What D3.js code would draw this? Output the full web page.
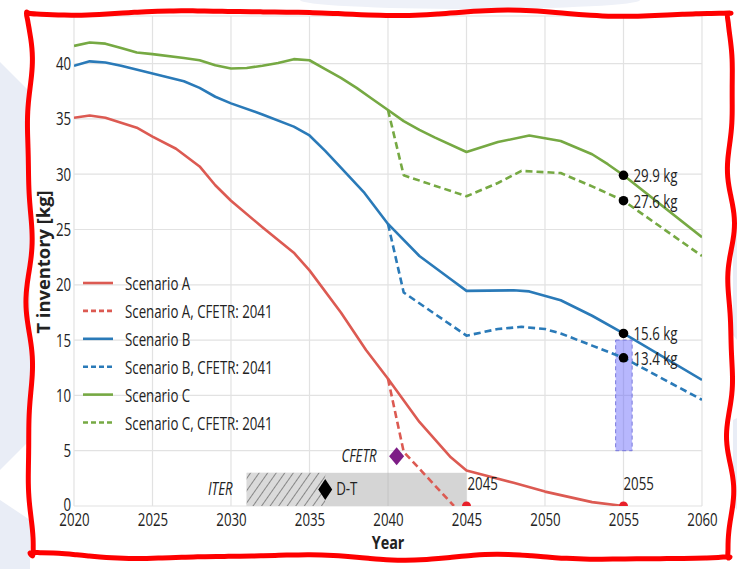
<!DOCTYPE html>
<html>
<head>
<meta charset="utf-8">
<script src="https://cdn.jsdelivr.net/npm/d3@7"></script>
<style>
body { margin: 0; background: #fff; }
text { font-family: "Open Sans", sans-serif; fill: #222; }
</style>
</head>
<body>
<svg id="chart" width="737" height="569"></svg>
<script>
//////////////////////////////////////
// Data

const xTicks = [2020, 2025, 2030, 2035, 2040, 2045, 2050, 2055, 2060]
const yTicks = [0, 5, 10, 15, 20, 25, 30, 35, 40]

const scenarioA = [[2020,35.1],[2021,35.3],[2022,35.1],[2024,34.2],[2025,33.4],[2026.5,32.3],[2028,30.7],[2029,29.0],[2030,27.6],[2032,25.2],[2034,22.9],[2035,21.3],[2037,17.5],[2038.6,14.1],[2040,11.5],[2042,7.6],[2044,4.4],[2045,3.2],[2048,2.1],[2050,1.3],[2053,0.35],[2055,0]]
const scenarioA_cfetr = [[2040,11.5],[2041,4.9],[2044.2,0]]
const scenarioB = [[2020,39.8],[2021,40.2],[2022,40.1],[2023,39.8],[2025,39.1],[2027,38.4],[2028,37.8],[2029,37.0],[2030,36.4],[2032,35.4],[2034,34.3],[2035,33.5],[2036,32.1],[2037,30.6],[2038.5,28.3],[2040,25.5],[2042,22.6],[2044,20.5],[2045,19.45],[2048,19.5],[2049,19.4],[2051,18.6],[2053,17.2],[2055,15.6],[2060,11.4]]
const scenarioB_cfetr = [[2040,25.5],[2041,19.3],[2045,15.4],[2047,16.0],[2048.5,16.2],[2050,16.0],[2051,15.6],[2053,14.5],[2055,13.4],[2060,9.6]]
const scenarioC = [[2020,41.6],[2021,41.9],[2022,41.8],[2023,41.4],[2024,41.0],[2025,40.85],[2027,40.5],[2028,40.3],[2029,39.85],[2030,39.55],[2031,39.6],[2032,39.8],[2033,40.05],[2034,40.4],[2035,40.3],[2036,39.5],[2037,38.7],[2038,37.8],[2039,36.8],[2040,35.8],[2041,34.8],[2042,34.0],[2043,33.3],[2045,32.0],[2047,32.9],[2049,33.5],[2051,33.0],[2053,31.8],[2054,30.9],[2055,29.9],[2060,24.3]]
const scenarioC_cfetr = [[2040,35.8],[2041,29.9],[2045,28.0],[2047,29.2],[2048.5,30.3],[2051,30.1],[2053,28.9],[2055,27.6],[2060,22.6]]

const seriesNames = ["Scenario A", "Scenario A, CFETR: 2041", "Scenario B", "Scenario B, CFETR: 2041", "Scenario C", "Scenario C, CFETR: 2041"]
const seriesData = [scenarioA, scenarioA_cfetr, scenarioB, scenarioB_cfetr, scenarioC, scenarioC_cfetr]
const seriesColors = ["#dc5a52", "#dc5a52", "#2a7ab8", "#2a7ab8", "#76a943", "#76a943"]
const seriesDashed = [false, true, false, true, false, true]

const markValues = [29.9, 27.6, 15.6, 13.4]
const markYear = 2055
const zeroDots = [2045, 2055]

const iter = {start: 2031, dt: 2036, end: 2045, level: 3}
const cfetr = {year: 2040.55, value: 4.5}
const band = {from: 2054.5, to: 2055.55, low: 5, high: 15}

//////////////////////////////////////
// Setup

const W = 737, H = 569
const mLeft = 74, mRight = 702, mTop = 16, mBottom = 506
const fs = 19
const sx = 0.7 // text in the figure is horizontally squeezed

const svg = d3.select("#chart")

const x = d3.scaleLinear().domain([2020, 2060]).range([mLeft, mRight])
const y = d3.scaleLinear().domain([0, 44.3]).range([mBottom, mTop])

// faint watermark shapes in the background
const bg = svg.append("g").attr("fill", "#e9edf6")
bg.append("path").attr("d", "M0,62 L30,92 L30,440 L0,470 Z")
bg.append("path").attr("d", "M0,500 L30,520 L30,569 L0,569 Z")
bg.append("path").attr("d", "M733,225 L737,222 L737,340 L733,335 Z")
bg.append("path").attr("d", "M733,420 L737,418 L737,510 L733,505 Z")
bg.append("ellipse").attr("cx", 470).attr("cy", 0).attr("rx", 170).attr("ry", 9).attr("fill", "#eef1f8")

//////////////////////////////////////
// Grid + axes

const grid = svg.append("g").attr("stroke", "#e2e2e2").attr("stroke-width", 1.2)
grid.selectAll(".vg").data(xTicks).join("line")
	.attr("x1", d => x(d)).attr("x2", d => x(d))
	.attr("y1", mTop).attr("y2", mBottom)
grid.selectAll(".hg").data(yTicks.concat([44.3])).join("line")
	.attr("x1", mLeft).attr("x2", mRight)
	.attr("y1", d => y(d)).attr("y2", d => y(d))

const yAxis = svg.append("g")
	.attr("transform", "translate(" + mLeft + ",0)")
	.call(d3.axisLeft(y).tickValues(yTicks).tickSize(0).tickPadding(4))
yAxis.select(".domain").remove()
yAxis.selectAll("text")
	.attr("font-size", fs).attr("font-family", "Open Sans").attr("fill", "#222")
	.attr("transform", d => "translate(0," + (d === 0 ? -2 : 0) + ") scale(" + sx + ",1)")

const xAxis = svg.append("g")
	.attr("transform", "translate(0," + mBottom + ")")
	.call(d3.axisBottom(x).tickValues(xTicks).tickFormat(d3.format("d")).tickSize(0).tickPadding(7))
xAxis.select(".domain").remove()
xAxis.selectAll("text")
	.attr("font-size", fs).attr("font-family", "Open Sans").attr("fill", "#222")
	.attr("transform", "scale(" + sx + ",1)")

svg.append("text")
	.attr("transform", "translate(50,262) rotate(-90) scale(1.02,1)")
	.attr("text-anchor", "middle")
	.attr("font-size", 18).attr("font-weight", "bold")
	.text("T inventory [kg]")

svg.append("text")
	.attr("transform", "translate(388,549) scale(0.8,1)")
	.attr("text-anchor", "middle")
	.attr("font-size", 18).attr("font-weight", "bold")
	.text("Year")

//////////////////////////////////////
// ITER box, CFETR marker, band

const defs = svg.append("defs")
const pat = defs.append("pattern").attr("id", "hatch")
	.attr("patternUnits", "userSpaceOnUse").attr("width", 7).attr("height", 7)
	.attr("patternTransform", "rotate(35)")
pat.append("rect").attr("width", 7).attr("height", 7).attr("fill", "#dadada")
pat.append("line").attr("x1", 0).attr("y1", 0).attr("x2", 0).attr("y2", 7)
	.attr("stroke", "#333").attr("stroke-width", 1)

svg.append("rect")
	.attr("x", x(iter.start)).attr("y", y(iter.level))
	.attr("width", x(iter.end) - x(iter.start)).attr("height", y(0) - y(iter.level))
	.attr("fill", "#d5d5d5")
svg.append("rect")
	.attr("x", x(iter.start)).attr("y", y(iter.level))
	.attr("width", x(iter.dt) - x(iter.start)).attr("height", y(0) - y(iter.level))
	.attr("fill", "url(#hatch)")
// gridline at 2040 shows through the gray box
svg.append("line").attr("x1", x(2040)).attr("x2", x(2040)).attr("y1", y(iter.level)).attr("y2", mBottom)
	.attr("stroke", "#c4c4c4").attr("stroke-width", 1)

svg.append("rect")
	.attr("x", x(band.from)).attr("y", y(band.high))
	.attr("width", x(band.to) - x(band.from)).attr("height", y(band.low) - y(band.high))
	.attr("fill", "rgba(95,95,250,0.45)")
	.attr("stroke", "#7777dd").attr("stroke-width", 1).attr("stroke-dasharray", "4,3")

function diamond(cx, cy, hw, hh) {
	return "M" + cx + "," + (cy - hh) + "L" + (cx + hw) + "," + cy + "L" + cx + "," + (cy + hh) + "L" + (cx - hw) + "," + cy + "Z"
}

//////////////////////////////////////
// Lines

const clip = defs.append("clipPath").attr("id", "plotclip")
clip.append("rect").attr("x", mLeft).attr("y", mTop).attr("width", mRight - mLeft).attr("height", mBottom - mTop)

const line = d3.line().x(d => x(d[0])).y(d => y(d[1])).curve(d3.curveLinear)
const plot = svg.append("g").attr("clip-path", "url(#plotclip)")

seriesData.forEach(function(data, i) {
	plot.append("path")
		.datum(data)
		.attr("fill", "none")
		.attr("stroke", seriesColors[i])
		.attr("stroke-width", 2.6)
		.attr("stroke-linejoin", "round")
		.attr("stroke-dasharray", seriesDashed[i] ? "7,4" : null)
		.attr("d", line)
})

plot.selectAll(".zd").data(zeroDots).join("circle")
	.attr("cx", d => x(d)).attr("cy", y(0)).attr("r", 4.5)
	.attr("fill", "#e8202a")

svg.append("path")
	.attr("d", diamond(x(iter.dt), y(iter.level / 2), 7, 10.5))
	.attr("fill", "#000")
svg.append("path")
	.attr("d", diamond(x(cfetr.year), y(cfetr.value), 7.5, 9))
	.attr("fill", "#7d1d86")

svg.selectAll(".mk").data(markValues).join("circle")
	.attr("cx", x(markYear)).attr("cy", d => y(d)).attr("r", 4.8)
	.attr("fill", "#000")

svg.selectAll(".mkl").data(markValues).join("text")
	.attr("transform", d => "translate(" + (x(markYear) + 10) + "," + (y(d) + 7) + ") scale(" + sx + ",1)")
	.attr("font-size", fs)
	.text(d => d + " kg")

//////////////////////////////////////
// Annotations

function label(px, py, s, opts) {
	const t = svg.append("text")
		.attr("transform", "translate(" + px + "," + py + ") scale(" + sx + ",1)")
		.attr("font-size", fs)
		.text(s)
	if (opts) for (const k in opts) t.attr(k, opts[k])
	return t
}
label(x(2045) + 1, y(0) - 16, "2045")
label(x(2055), y(0) - 16, "2055")
label(x(iter.start) - 14, y(0) - 11, "ITER", {"text-anchor": "end", "font-style": "italic"})
label(x(iter.dt) + 11, y(0) - 11, "D-T")
label(x(cfetr.year) - 20, y(cfetr.value) + 6, "CFETR", {"text-anchor": "end", "font-style": "italic", "fill": "#7d1d86"})

//////////////////////////////////////
// Legend

const legend = svg.append("g").attr("transform", "translate(83,283)")
seriesNames.forEach(function(name, i) {
	const row = legend.append("g").attr("transform", "translate(0," + (i * 27.9) + ")")
	row.append("line")
		.attr("x1", 0).attr("x2", 30).attr("y1", 0).attr("y2", 0)
		.attr("stroke", seriesColors[i]).attr("stroke-width", 2.6)
		.attr("stroke-dasharray", seriesDashed[i] ? "5,3" : null)
	row.append("text")
		.attr("transform", "translate(42,7) scale(" + sx + ",1)")
		.attr("font-size", fs)
		.text(name)
})

//////////////////////////////////////
// Hand-drawn red frame

function wobble(x0, y0, x1, y1, amp, freq, phase) {
	const pts = []
	const n = 60
	const len = Math.hypot(x1 - x0, y1 - y0)
	const nx = -(y1 - y0) / len, ny = (x1 - x0) / len
	for (let i = 0; i <= n; i++) {
		const t = i / n
		const o = amp * Math.sin(t * freq * Math.PI * 2 + phase) + amp * 0.5 * Math.sin(t * freq * 3.1 * Math.PI + phase * 2)
		pts.push([x0 + (x1 - x0) * t + nx * o, y0 + (y1 - y0) * t + ny * o])
	}
	return pts
}
const frame = []
	.concat(wobble(29, 12, 731, 14, 2.2, 2.5, 0.3))
	.concat(wobble(731, 14, 730, 558, 2.6, 4, 1.2))
	.concat(wobble(730, 558, 30, 556, 2.2, 3, 2.0))
	.concat(wobble(30, 556, 29, 12, 2.4, 3.5, 0.7))
svg.append("path")
	.attr("d", d3.line().curve(d3.curveCatmullRomClosed)(frame))
	.attr("fill", "none")
	.attr("stroke", "#fe0000")
	.attr("stroke-width", 5)
	.attr("stroke-linejoin", "round")
</script>
</body>
</html>
